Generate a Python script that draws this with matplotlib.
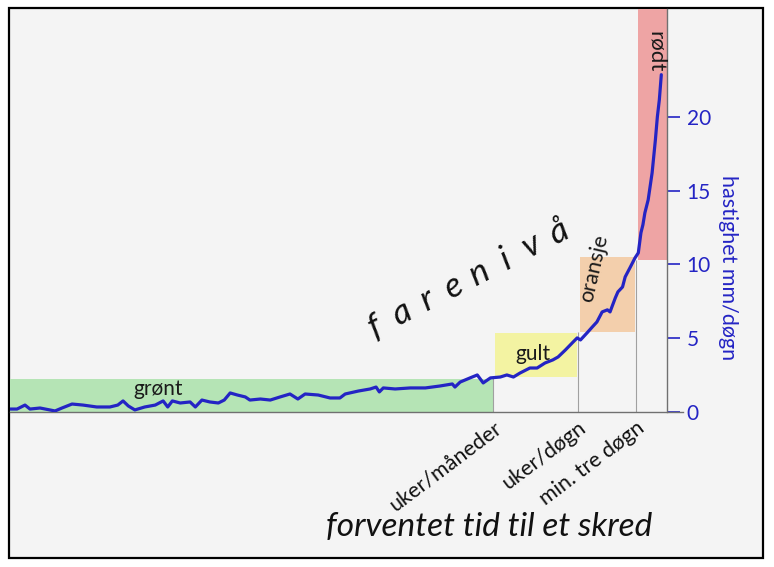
import matplotlib
matplotlib.use("Agg")
import matplotlib.pyplot as plt
from matplotlib.patches import Rectangle
import math

plt.rcParams['font.family'] = ['Lato', 'DejaVu Sans']

# ---- data ----
levels = ['grønt', 'gult', 'oransje', 'rødt']
band_x0 = [0.0, 73.8, 86.8, 95.6]
band_x1 = [73.5, 86.3, 95.1, 100.0]
band_y0 = [0.0, 2.37, 5.4, 10.3]
band_y1 = [2.25, 5.36, 10.5, 27.3]
band_colors = ['#b5e4b5', '#f3f3a2', '#f3cfac', '#eea4a4']

time_ticks = [73.5, 86.45, 95.3]
time_tick_tops = [2.3, 5.4, 10.3]
time_labels = ['uker/måneder', 'uker/døgn', 'min. tre døgn']

speed_ticks = [0, 5, 10, 15, 20]

title_letters = list('farenivå')

curve_x = [0.0, 1.07, 2.28, 3.04, 4.57, 6.85, 7.91, 9.44, 11.1, 13.2, 15.2, 16.4,
           17.2, 18.0, 19.0, 20.5, 22.1, 23.3, 24.0, 24.7, 25.9, 27.4, 28.2, 29.2,
           30.4, 31.7, 32.6, 33.5, 34.6, 35.8, 36.5, 38.1, 39.6, 41.1, 42.6, 43.8,
           44.9, 46.9, 48.7, 50.2, 51.0, 53.0, 54.8, 55.7, 56.2, 56.8, 58.6, 60.9,
           63.2, 65.4, 67.3, 67.7, 68.5, 70.0, 71.1, 72.0, 73.1, 74.6, 75.6, 76.6,
           77.6, 79.1, 80.2, 81.4, 82.6, 83.4, 84.5, 85.7, 86.3, 86.8, 87.8, 88.6,
           89.3, 90.1, 90.9, 91.3, 92.1, 92.5, 93.2, 93.6, 94.4, 95.1, 95.6, 96.0,
           96.3, 96.6, 97.1, 97.7, 98.2, 98.5, 98.8, 99.1]
curve_y = [0.20, 0.20, 0.47, 0.20, 0.27, 0.07, 0.27, 0.54, 0.47, 0.34, 0.34, 0.47,
           0.75, 0.41, 0.14, 0.34, 0.47, 0.75, 0.34, 0.75, 0.61, 0.68, 0.34, 0.81,
           0.68, 0.61, 0.81, 1.29, 1.15, 1.02, 0.81, 0.88, 0.81, 1.02, 1.22, 0.88,
           1.22, 1.15, 0.95, 0.95, 1.22, 1.42, 1.56, 1.69, 1.36, 1.63, 1.56, 1.63,
           1.63, 1.76, 1.90, 1.69, 2.03, 2.31, 2.51, 1.97, 2.31, 2.37, 2.51, 2.37,
           2.64, 2.98, 2.98, 3.32, 3.53, 3.73, 4.20, 4.75, 5.02, 4.88, 5.36, 5.76,
           6.10, 6.78, 6.92, 6.78, 7.73, 8.14, 8.47, 9.15, 9.83, 10.44, 10.78, 12.14,
           12.68, 13.49, 14.37, 16.20, 18.44, 20.0, 21.15, 22.85]

BLUE = '#2424c4'
AXIS_GRAY = '#707070'
W, H = 774, 567

fig = plt.figure(figsize=(7.74, 5.67), dpi=100)
fig.patch.set_facecolor('white')
frame = Rectangle((9 / W, 1 - 558 / H), 754 / W, 550 / H,
                  transform=fig.transFigure, facecolor='#f4f4f4',
                  edgecolor='black', lw=1.6, zorder=0)
fig.add_artist(frame)

ax = fig.add_axes([10 / W, (H - 412) / H, 673 / W, 403 / H])
ax.set_facecolor('none')
ax.set_xlim(0, 102.4)
ax.set_ylim(0, 27.3)

for x0, x1, y0, y1, c in zip(band_x0, band_x1, band_y0, band_y1, band_colors):
    ax.bar(x0, y1 - y0, width=x1 - x0, bottom=y0, align='edge', color=c,
           linewidth=0, zorder=1)

ax.vlines(time_ticks, 0, time_tick_tops, color='#a0a0a0', lw=0.8, zorder=2)

ax.plot(curve_x, curve_y, color=BLUE, lw=2.3, solid_joinstyle='round',
        solid_capstyle='round', zorder=4)

# spines
for s in ['top', 'left']:
    ax.spines[s].set_visible(False)
ax.spines['bottom'].set_color(AXIS_GRAY)
ax.spines['bottom'].set_linewidth(1.0)
ax.spines['right'].set_position(('data', 100))
ax.spines['right'].set_color(AXIS_GRAY)
ax.spines['right'].set_linewidth(1.0)

ax.yaxis.tick_right()
ax.set_yticks(speed_ticks)
ax.set_yticklabels([str(t) for t in speed_ticks])
ax.tick_params(axis='y', colors=BLUE, length=9, width=1.2, pad=5, labelsize=15)

ax.set_xticks(time_ticks)
ax.set_xticklabels(time_labels, rotation=37, ha='right', va='top',
                   rotation_mode='anchor', fontsize=15.5, color='#111111')
ax.tick_params(axis='x', length=0, pad=4)

# band labels
ax.text(22.5, 1.56, 'grønt', fontsize=15, ha='center', va='center', color='#1a1a1a', zorder=5)
ax.text(79.5, 3.9, 'gult', fontsize=15, ha='center', va='center', color='#1a1a1a', zorder=5)
ax.text(88.9, 9.76, 'oransje', fontsize=15.5, ha='center', va='center', rotation=77,
        color='#1a1a1a', zorder=5)
ax.text(98.2, 24.4, 'rødt', fontsize=16, ha='center', va='center', rotation=-90,
        color='#1a1a1a', zorder=5)

ax.text(109.3, 9.76, 'hastighet mm/døgn', fontsize=15.5, ha='center', va='center',
        rotation=-90, color=BLUE, clip_on=False)

# spaced, rotated title "f a r e n i v å" laid out letter by letter
angle = 27.5
start_px = (375, 327)
pitch = 29.5
for i, ch in enumerate(title_letters):
    px = start_px[0] + i * pitch * math.cos(math.radians(angle))
    py = start_px[1] - i * pitch * math.sin(math.radians(angle))
    fig.text(px / W, 1 - py / H, ch, fontsize=25, ha='center', va='center',
             rotation=angle, style='italic', color='#111111')

fig.text(489 / W, 1 - 527 / H, 'forventet tid til et skred', fontsize=24,
         style='italic', ha='center', va='center', color='#111111')

fig.savefig('out.png', dpi=100)
